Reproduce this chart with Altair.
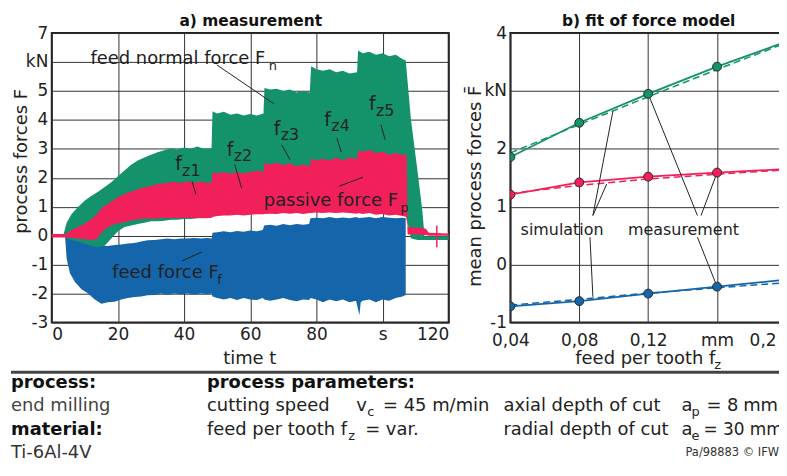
import altair as alt
import pandas as pd

FONT = "DejaVu Sans"
GREEN = "#13926b"
RED = "#f2205a"
BLUE = "#1565aa"
INK = "#222222"

# ---------------- a) measurement: signal envelopes (time s, lower kN, upper kN)
fn_env = [
    (0, 0, 0), (3.5, -0.02, 0.02), (4.5, -0.1, 0.45), (6, -0.15, 0.75), (8, -0.2, 1.0),
    (10, -0.28, 1.22), (12, -0.35, 1.38), (14, -0.4, 1.52), (16, -0.35, 1.68), (18, -0.1, 1.85),
    (20, 0.15, 2.05), (22, 0.3, 2.25), (24, 0.35, 2.45), (26, 0.4, 2.6), (28, 0.45, 2.7),
    (30, 0.5, 2.8), (32, 0.5, 2.88), (34, 0.52, 2.95), (36, 0.55, 3.02), (38, 0.55, 2.98),
    (40, 0.58, 3.05), (42, 0.58, 3.0), (44, 0.6, 3.08), (46, 0.6, 3.0), (48.3, 0.62, 3.02),
    (48.6, 0.68, 4.3), (50, 0.7, 4.22), (52, 0.72, 4.28), (54, 0.72, 4.18), (56, 0.74, 4.22),
    (58, 0.74, 4.15), (60, 0.76, 4.2), (62, 0.76, 4.15), (64, 0.78, 4.22), (64.3, 0.78, 5.1),
    (66, 0.8, 5.05), (68, 0.8, 5.08), (70, 0.8, 5.0), (72, 0.82, 5.05), (74, 0.82, 4.95),
    (76, 0.82, 5.0), (78, 0.82, 4.95), (78.4, 0.82, 5.85), (80, 0.82, 5.75), (82, 0.84, 5.7),
    (84, 0.84, 5.75), (86, 0.84, 5.65), (88, 0.84, 5.7), (90, 0.84, 5.6), (92.3, 0.82, 5.65),
    (92.6, 0.8, 6.4), (94, 0.8, 6.3), (96, 0.8, 6.35), (98, 0.78, 6.25), (100, 0.78, 6.3),
    (102, 0.76, 6.2), (104, 0.74, 6.25), (106, 0.72, 6.1), (107, 0.7, 6.05), (108.6, -0.1, 4.0),
    (110.6, -0.15, 2.2), (112, -0.15, 0.9), (112.7, -0.15, -0.02), (120, -0.15, -0.02),
]
fp_env = [
    (0, -0.06, 0.06), (4, -0.06, 0.06), (5, -0.06, 0.12), (6, -0.08, 0.2), (8, -0.1, 0.3),
    (10, -0.12, 0.42), (12, -0.15, 0.58), (13.5, -0.12, 0.72), (15, 0.1, 0.95), (17, 0.3, 1.1),
    (19, 0.4, 1.25), (21, 0.45, 1.4), (23, 0.5, 1.48), (25, 0.55, 1.56), (27, 0.58, 1.65),
    (29, 0.6, 1.7), (31, 0.58, 1.75), (33, 0.62, 1.8), (35, 0.6, 1.82), (37, 0.62, 1.86),
    (39, 0.6, 1.82), (41, 0.62, 1.88), (43, 0.6, 1.84), (45, 0.62, 1.87), (47, 0.6, 1.82),
    (48.3, 0.62, 1.85), (48.6, 0.65, 2.2), (50, 0.68, 2.15), (52, 0.7, 2.2), (54, 0.7, 2.14),
    (56, 0.72, 2.2), (58, 0.7, 2.15), (60, 0.72, 2.2), (62, 0.74, 2.24), (64, 0.74, 2.2),
    (64.3, 0.75, 2.52), (66, 0.76, 2.46), (68, 0.75, 2.52), (70, 0.78, 2.44), (72, 0.76, 2.5),
    (74, 0.78, 2.4), (76, 0.75, 2.46), (78, 0.78, 2.4), (78.4, 0.78, 2.66), (80, 0.8, 2.6),
    (82, 0.78, 2.66), (84, 0.8, 2.6), (86, 0.78, 2.7), (88, 0.8, 2.6), (90, 0.78, 2.7),
    (92.3, 0.76, 2.65), (92.6, 0.78, 2.95), (94, 0.75, 2.9), (96, 0.78, 2.96), (98, 0.72, 2.86),
    (100, 0.75, 2.9), (102, 0.7, 2.8), (104, 0.72, 2.86), (106, 0.68, 2.8), (107.3, 0.65, 2.8),
    (107.6, 0.04, 0.3), (110, 0.04, 0.28), (113, 0.02, 0.25), (114, 0.0, 0.1), (120, 0.0, 0.08),
]
ff_env = [
    (4, 0, 0), (4.5, -0.8, -0.05), (5.5, -1.3, -0.1), (7, -1.6, -0.15), (9, -1.85, -0.2),
    (11, -2.0, -0.25), (13, -2.2, -0.3), (15, -2.35, -0.35), (17, -2.3, -0.36), (19, -2.28, -0.32),
    (21, -2.2, -0.3), (23, -2.15, -0.27), (25, -2.12, -0.25), (27, -2.1, -0.2), (29, -2.06, -0.16),
    (31, -2.05, -0.15), (33, -2.0, -0.12), (35, -2.04, -0.1), (37, -2.0, -0.12), (39, -2.02, -0.1),
    (41, -2.0, -0.1), (43, -2.04, -0.08), (45, -2.0, -0.1), (47, -2.02, -0.08), (48.3, -2.0, -0.1),
    (48.6, -2.1, 0.1), (50, -2.15, 0.12), (52, -2.2, 0.15), (54, -2.15, 0.12), (56, -2.22, 0.16),
    (58, -2.15, 0.14), (60, -2.2, 0.18), (62, -2.22, 0.15), (63.8, -2.15, 0.2), (64.2, -2.2, 0.35),
    (66, -2.25, 0.38), (68, -2.2, 0.34), (70, -2.15, 0.4), (72, -2.22, 0.36), (74, -2.26, 0.4),
    (76, -2.2, 0.38), (77.8, -2.22, 0.4), (78.2, -2.15, 0.6), (80, -2.2, 0.62), (82, -2.3, 0.6),
    (84, -2.2, 0.65), (86, -2.26, 0.6), (88, -2.2, 0.63), (90, -2.3, 0.6), (92, -2.25, 0.65),
    (93, -2.75, 0.6), (93.4, -2.3, 0.62), (94, -2.25, 0.62), (96, -2.2, 0.65), (98, -2.3, 0.6),
    (100, -2.2, 0.65), (102, -2.25, 0.62), (104, -2.15, 0.6), (106, -2.1, 0.62), (107, -2.05, 0.6),
]
reset_marker = [(116.4, -0.4, 0.35)]

time_ticks = [0, 20, 40, 60, 80, 100, 120]
time_labels = ["0", "20", "40", "60", "80", "s", "120"]
force_ticks = [-3, -2, -1, 0, 1, 2, 3, 4, 5, 6, 7]
force_labels = ["-3", "-2", "-1", "0", "1", "2", "3", "4", "5", "kN", "7"]

# ---------------- b) fit of force model
fz = [0.04, 0.08, 0.12, 0.16, 0.20]
meas_fn = [1.86, 2.45, 2.95, 3.42, 3.85]
meas_fp = [1.21, 1.42, 1.52, 1.59, 1.65]
meas_ff = [-0.72, -0.63, -0.50, -0.38, -0.26]
sim_fn = [1.93, 2.42, 2.90, 3.37, 3.83]
sim_fp = [1.23, 1.37, 1.48, 1.56, 1.64]
sim_ff = [-0.70, -0.60, -0.49, -0.40, -0.31]
series_names = ["Fn", "Fp", "Ff"]
series_colors = [GREEN, RED, BLUE]

fz_ticks = [0.04, 0.08, 0.12, 0.16, 0.20]
fz_labels = ["0,04", "0,08", "0,12", "mm", "0,2"]
mean_ticks = [-1, 0, 1, 2, 3, 4]
mean_labels = ["-1", "0", "1", "2", "kN", "4"]


def label_expr(vals, labels):
    expr = "''"
    for v, lab in reversed(list(zip(vals, labels))):
        expr = f"abs(datum.value - ({v})) < 1e-6 ? '{lab}' : ({expr})"
    return expr


# ---------------- left panel scales / axes
sxL = alt.Scale(domain=[0, 120], nice=False, zero=False)
syL = alt.Scale(domain=[-3, 7], nice=False, zero=False)
axXL = alt.Axis(values=time_ticks, labelExpr=label_expr(time_ticks, time_labels), title=None)
axYL = alt.Axis(values=force_ticks, labelExpr=label_expr(force_ticks, force_labels), title=None)


def XL(f):
    return alt.X(f"{f}:Q", scale=sxL, axis=axXL)


def YL(f):
    return alt.Y(f"{f}:Q", scale=syL, axis=axYL)


def area(env, color):
    df = pd.DataFrame(env, columns=["t", "lo", "hi"])
    return alt.Chart(df).mark_area(color=color, opacity=1).encode(
        x=XL("t"), y=YL("lo"), y2="hi:Q"
    )


def ptext(rows, **mark):
    df = pd.DataFrame(rows, columns=["label", "px", "py", "fs", "col"])
    props = {"font": FONT, "baseline": "alphabetic"}
    props.update(mark)
    return alt.Chart(df).mark_text(**props).encode(
        x=alt.X("px:Q", scale=None, axis=None),
        y=alt.Y("py:Q", scale=None, axis=None),
        text="label:N",
        size=alt.Size("fs:Q", scale=None),
        color=alt.Color("col:N", scale=None),
    )


# annotation placement tables (left panel, data coordinates)
left_notes = pd.DataFrame(
    [
        ("feed normal force F", 11.7, 5.94, 18), ("n", 65.6, 5.73, 13),
        ("passive force F", 64.1, 1.02, 18), ("p", 105.4, 0.83, 13),
        ("feed force F", 18.3, -1.45, 18), ("f", 50.0, -1.66, 13),
        ("f", 37.3, 2.26, 19), ("z1", 39.4, 2.05, 16),
        ("f", 52.9, 2.74, 19), ("z2", 55.0, 2.57, 16),
        ("f", 67.1, 3.49, 19), ("z3", 69.2, 3.29, 16),
        ("f", 82.4, 3.80, 19), ("z4", 84.5, 3.60, 16),
        ("f", 95.9, 4.35, 19), ("z5", 98.0, 4.15, 16),
    ],
    columns=["label", "t", "F", "fs"],
)
left_leaders = pd.DataFrame(
    [
        (49.9, 5.90, 67.1, 4.56), (42.4, 1.88, 43.6, 1.43), (55.3, 2.46, 57.4, 1.64),
        (69.5, 3.14, 72.0, 2.63), (86.2, 3.37, 87.5, 2.89), (99.5, 3.83, 100.8, 3.31),
        (86.9, 1.71, 94.1, 2.02), (39.4, -0.87, 45.4, -0.56),
    ],
    columns=["t1", "F1", "t2", "F2"],
)

marker_df = pd.DataFrame(reset_marker, columns=["t", "lo", "hi"])
one = pd.DataFrame({"k": [0]})

left_layers = [
    area(ff_env, BLUE),
    area(fn_env, GREEN),
    area(fp_env, RED),
    alt.Chart(marker_df).mark_rule(color=RED, strokeWidth=1.5).encode(x=XL("t"), y=YL("lo"), y2="hi:Q"),
    alt.Chart(left_leaders).mark_rule(color=INK, strokeWidth=1).encode(
        x=XL("t1"), y=YL("F1"), x2="t2:Q", y2="F2:Q"
    ),
    alt.Chart(left_notes).mark_text(font=FONT, align="left", baseline="alphabetic", color=INK).encode(
        x=XL("t"), y=YL("F"), text="label:N", size=alt.Size("fs:Q", scale=None)
    ),
    # titles / axis titles (pixel offsets from the plot origin)
    ptext([("a) measurement", 200, -7, 15.5, "#111111")], align="center", fontWeight="bold"),
    ptext([("time t", 199, 333, 18, INK)], align="center"),
    ptext([("process forces F", -30, 129, 18, INK)], align="center", baseline="middle", angle=270),
    # separator and process description
    alt.Chart(one).mark_rule(color="#444444", strokeWidth=3).encode(
        x=alt.value(-41), x2=alt.value(737), y=alt.value(341)
    ),
    # invisible anchor fixing the top-left page extent
    alt.Chart(one).mark_rule(opacity=0).encode(x=alt.value(-41), x2=alt.value(-40), y=alt.value(-23)),
    ptext(
        [
            ("process:", -41, 357, 18, "#111111"),
            ("material:", -41, 404, 18, "#111111"),
            ("process parameters:", 156, 357, 18, "#111111"),
        ],
        align="left", fontWeight="bold",
    ),
    ptext(
        [
            ("end milling", -41, 380, 18, "#444444"),
            ("Ti-6Al-4V", -41, 427, 18, "#333333"),
            ("cutting speed", 156, 380, 18, INK),
            ("v", 306, 380, 18, INK), ("c", 317, 385, 13, INK), ("= 45 m/min", 333, 380, 18, INK),
            ("feed per tooth f", 156, 404, 18, INK), ("z", 298, 409, 13, INK), ("= var.", 315, 404, 18, INK),
            ("axial depth of cut", 454, 380, 18, INK),
            ("a", 633, 380, 18, INK), ("p", 643, 385, 13, INK), ("= 8", 658, 380, 18, INK), ("mm", 695, 380, 18, INK),
            ("radial depth of cut", 454, 404, 18, INK),
            ("a", 633, 404, 18, INK), ("e", 643, 409, 13, INK), ("= 30 mm", 655, 404, 17, INK),
            ("Pa/98883 \u00a9 IFW", 637, 425, 11.5, "#333333"),
        ],
        align="left",
    ),
]
left = alt.layer(*left_layers).properties(width=399, height=291)

# ---------------- right panel
sxR = alt.Scale(domain=[0.04, 0.20], nice=False, zero=False)
syR = alt.Scale(domain=[-1, 4], nice=False, zero=False)
axXR = alt.Axis(
    values=fz_ticks, labelExpr=label_expr(fz_ticks, fz_labels), title=None, labelPadding=10,
    labelAlign={"condition": {"test": "datum.value > 0.19", "value": "right"}, "value": "center"},
    labelOffset={"condition": {"test": "datum.value > 0.19", "value": -10}, "value": 0},
)
axYR = alt.Axis(values=mean_ticks, labelExpr=label_expr(mean_ticks, mean_labels), title=None)


def XR(f):
    return alt.X(f"{f}:Q", scale=sxR, axis=axXR)


def YR(f):
    return alt.Y(f"{f}:Q", scale=syR, axis=axYR)


rows = []
for name, m, s in zip(series_names, [meas_fn, meas_fp, meas_ff], [sim_fn, sim_fp, sim_ff]):
    for x, mv, sv in zip(fz, m, s):
        rows.append({"fz": x, "meas": mv, "sim": sv, "series": name})
fit_df = pd.DataFrame(rows)
cscale = alt.Scale(domain=series_names, range=series_colors)

right_notes = pd.DataFrame(
    [("simulation", 0.070, 0.507), ("measurement", 0.1405, 0.507)], columns=["label", "fz", "F"]
)
right_leaders = pd.DataFrame(
    [
        (0.0879, 0.849, 0.0995, 2.647), (0.0879, 0.849, 0.0959, 1.392), (0.0862, 0.473, 0.0879, -0.555),
        (0.1486, 0.849, 0.12, 2.95), (0.1507, 0.849, 0.16, 1.59), (0.1486, 0.473, 0.16, -0.38),
    ],
    columns=["f1", "F1", "f2", "F2"],
)

right_layers = [
    alt.Chart(fit_df).mark_line(strokeWidth=1.5, strokeDash=[7, 4], clip=True).encode(
        x=XR("fz"), y=YR("sim"), color=alt.Color("series:N", scale=cscale, legend=None), detail="series:N"
    ),
    alt.Chart(fit_df).mark_line(strokeWidth=1.8, clip=True).encode(
        x=XR("fz"), y=YR("meas"), color=alt.Color("series:N", scale=cscale, legend=None), detail="series:N"
    ),
    alt.Chart(right_leaders).mark_rule(color=INK, strokeWidth=1).encode(
        x=XR("f1"), y=YR("F1"), x2="f2:Q", y2="F2:Q"
    ),
    alt.Chart(fit_df).mark_point(filled=True, size=80, stroke="#2a2a2a", strokeWidth=1, opacity=1, clip=True).encode(
        x=XR("fz"), y=YR("meas"), color=alt.Color("series:N", scale=cscale, legend=None)
    ),
    alt.Chart(right_notes).mark_text(font=FONT, fontSize=16, align="center", baseline="alphabetic", color=INK).encode(
        x=XR("fz"), y=YR("F"), text="label:N"
    ),
    ptext([("b) fit of force model", 139, -7, 15.5, "#111111")], align="center", fontWeight="bold"),
    ptext([("feed per tooth f", 206, 333, 18, INK)], align="right"),
    ptext([("z", 205, 338, 13, INK)], align="left"),
    ptext([("mean process forces F\u0304", -35, 154, 18, INK)], align="center", baseline="middle", angle=270),
]
right = alt.layer(*right_layers).properties(width=277, height=291)

chart = (
    alt.hconcat(
        left, right, spacing=62, bounds="flush",
        padding={"left": 0, "top": 0, "right": -9, "bottom": 0},
    )
    .configure_view(stroke=INK, strokeWidth=2)
    .configure_axis(
        grid=True, gridColor="#333333", gridWidth=1, domain=False, ticks=False,
        labelFont=FONT, labelFontSize=17, labelColor=INK, labelPadding=4,
    )
)

chart.save("out.html", embed_options={"renderer": "svg", "actions": False})
